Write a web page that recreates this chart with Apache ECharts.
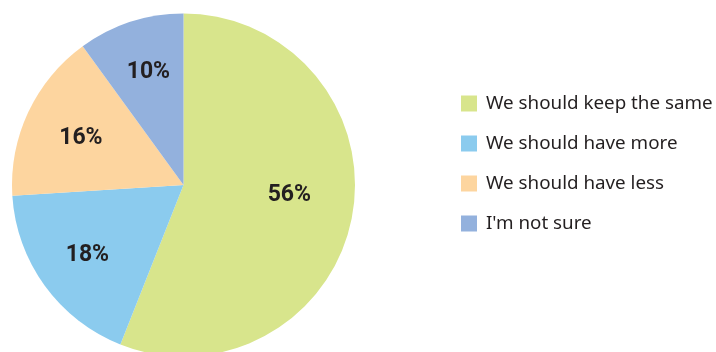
<!DOCTYPE html>
<html>
<head>
<meta charset="utf-8">
<script src="https://cdn.jsdelivr.net/npm/echarts@6/dist/echarts.min.js"></script>
<style>
  html, body { margin: 0; padding: 0; background: #ffffff; }
  #chart { width: 716px; height: 352px; }
</style>
</head>
<body>
<div id="chart"></div>
<script>
// Survey answers and their shares (percent)
const categories = ['We should keep the same', 'We should have more', 'We should have less', "I'm not sure"];
const shares = [56, 18, 16, 10];
const colors = ['#d8e58c', '#8bcbee', '#fdd59f', '#93b1dd'];
// nudges for the in-slice percentage labels
const labelOffsets = [[-12, -12], [1, 0], [6, 4], [2, 1]];

const chart = echarts.init(document.getElementById('chart'), null, { renderer: 'canvas' });

const sliceData = categories.map((name, i) => ({
  name: name,
  value: shares[i],
  itemStyle: { color: colors[i] }
}));

const labelData = categories.map((name, i) => ({
  name: name,
  value: shares[i],
  label: { offset: labelOffsets[i] }
}));

chart.setOption({
  animation: false,
  legend: {
    orient: 'vertical',
    left: 456,
    top: 89,
    itemWidth: 16,
    itemHeight: 16,
    itemGap: 21,
    icon: 'rect',
    selectedMode: false,
    textStyle: {
      fontFamily: 'Noto Sans',
      fontSize: 18.8,
      color: '#231f20',
      padding: [0, 0, 0, 4]
    },
    data: categories
  },
  series: [
    {
      type: 'pie',
      center: [183.5, 185],
      radius: 171.5,
      startAngle: 90,
      clockwise: true,
      silent: true,
      label: { show: false },
      labelLine: { show: false },
      itemStyle: { borderWidth: 0 },
      data: sliceData
    },
    {
      // transparent ring carrying the percentage labels
      type: 'pie',
      center: [183.5, 185],
      radius: 234,
      startAngle: 90,
      clockwise: true,
      silent: true,
      legendHoverLink: false,
      itemStyle: { color: 'rgba(0,0,0,0)', borderWidth: 0 },
      label: {
        show: true,
        position: 'inside',
        formatter: '{c}%',
        fontFamily: 'Roboto',
        fontWeight: 'bold',
        fontSize: 23,
        color: '#231f20'
      },
      labelLine: { show: false },
      data: labelData
    }
  ]
});
</script>
</body>
</html>
